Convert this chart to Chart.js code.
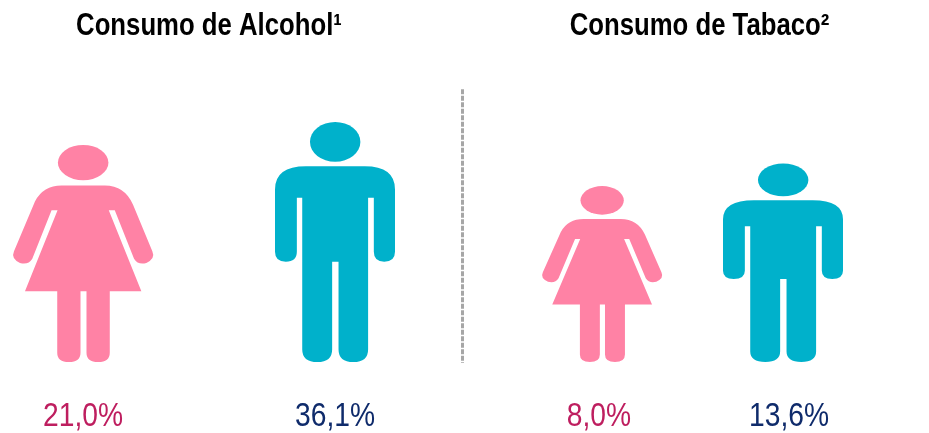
<!DOCTYPE html>
<html><head><meta charset="utf-8">
<script src="https://cdn.jsdelivr.net/npm/chart.js@4"></script>
<style>
html,body{margin:0;padding:0;background:#fff;overflow:hidden;width:929px;height:433px}
.p{position:absolute;top:0;height:433px}
#a{left:-60px;width:530px}
#b{left:469px;width:460px}
</style></head><body>
<div class="p" id="a"><canvas id="c1"></canvas></div>
<div class="p" id="b"><canvas id="c2"></canvas></div>
<script>
const alcoholLabels = ['21,0%', '36,1%'];
const tobaccoLabels = ['8,0%', '13,6%'];
const alcoholWomen = [21.0, null];
const alcoholMen = [null, 36.1];
const tobaccoWomen = [8.0, null];
const tobaccoMen = [null, 13.6];
const titles = ['Consumo de Alcohol¹', 'Consumo de Tabaco²'];

const PINK = '#FF82A5', TEAL = '#00B1CB', LABEL_COLOURS = ['#BE1E5F', '#0F2B6B'];
const FONT = '"Liberation Sans",Arial,sans-serif';
const LABEL_NUDGE = {'8,0%': -3, '13,6%': 6};

// Pictogram outlines, drawn in a unit box that is fitted to the bar rectangle.
const womanPath = new Path2D('M185 152L315 152Q375 152 400 210L458 350Q468 372 440 385Q415 392 403 372L345 226L327 226L425 470L330 470L330 655Q330 683 295 683Q260 683 260 655L260 470L242 470L242 655Q242 683 207 683Q172 683 172 655L172 470L75 470L173 226L155 226L97 372Q85 392 60 385Q32 372 42 350L105 200Q130 152 185 152Z');
const manPath = new Path2D('M125 152L300 152Q390 152 390 222L390 410Q390 440 358 440Q327 440 327 410L327 247L310 247L310 705Q310 743 266 743Q222 743 222 705L222 440L203 440L203 705Q203 743 159 743Q114 743 114 705L114 247L98 247L98 410Q98 440 65 440Q33 440 33 410L33 222Q33 152 125 152Z');
const shapes = [
  {path: womanPath, x0: 39, y0: 30, w: 421, h: 653, head: [250, 83, 76, 53]},
  {path: manPath, x0: 33, y0: 18, w: 357, h: 725, head: [212, 78, 75, 60]}
];

// The reference's type is a condensed grotesque: squeeze the installed sans sideways.
const condensedText = {
  id: 'condensedText',
  beforeInit(chart) {
    const ctx = chart.ctx, fill = ctx.fillText;
    ctx.fillText = function (text, x, y) {
      const k = ctx.font.includes('bold') ? 0.83 : 0.83;
      ctx.save();
      ctx.translate(x + (LABEL_NUDGE[text] || 0), y);
      ctx.scale(k, 1);
      fill.call(ctx, text, 0, 0);
      ctx.restore();
    };
  }
};
const pictogram = {
  id: 'pictogram',
  beforeDatasetDraw(chart, args) {
    const ctx = chart.ctx, s = shapes[args.index];
    chart.getDatasetMeta(args.index).data.forEach((el, i) => {
      if (chart.data.datasets[args.index].data[i] == null) return;
      const p = el.getProps(['x', 'y', 'base', 'width'], true);
      ctx.save();
      ctx.translate(p.x - p.width / 2, p.y);
      ctx.scale(p.width / s.w, (p.base - p.y) / s.h);
      ctx.translate(-s.x0, -s.y0);
      ctx.fillStyle = el.options.backgroundColor;
      ctx.fill(s.path);
      ctx.beginPath();
      ctx.ellipse(s.head[0], s.head[1], s.head[2], s.head[3], 0, 0, Math.PI * 2);
      ctx.fill();
      ctx.restore();
    });
    return false;
  }
};
const divider = {
  id: 'divider',
  afterDraw(chart, args, o) {
    if (!o.show) return;
    const {ctx, chartArea: a} = chart;
    ctx.save();
    ctx.strokeStyle = '#a6a6a6';
    ctx.lineWidth = 3;
    ctx.setLineDash([5, 1.5]);
    ctx.beginPath();
    ctx.moveTo(a.right + 1.5, a.top);
    ctx.lineTo(a.right + 1.5, a.bottom + 1);
    ctx.stroke();
    ctx.restore();
  }
};

function panel(id, labels, women, men, title, womanWidth, manWidth, pad, yPos, yWidth, showDivider) {
  return new Chart(document.getElementById(id), {
    type: 'bar',
    data: {
      labels,
      datasets: [
        {label: 'Mulheres', data: women, backgroundColor: PINK, barThickness: womanWidth, grouped: false},
        {label: 'Homens', data: men, backgroundColor: TEAL, barThickness: manWidth, grouped: false}
      ]
    },
    plugins: [condensedText, pictogram, divider],
    options: {
      responsive: true, maintainAspectRatio: false, animation: false,
      layout: {padding: {left: pad[0], right: pad[1], bottom: 0, top: 0}},
      scales: {
        x: {
          grid: {display: false}, border: {display: false},
          afterFit(s) { s.height = 71; },
          ticks: {color: c => LABEL_COLOURS[c.index], font: {family: FONT, size: 34}, padding: 26, maxRotation: 0, autoSkip: false}
        },
        y: {
          type: 'logarithmic', min: 0.128, max: 78, position: yPos,
          grid: {display: false}, border: {display: false}, ticks: {display: false},
          afterFit(s) { s.width = yWidth; }
        }
      },
      plugins: {
        legend: {display: false},
        tooltip: {enabled: false},
        divider: {show: showDivider},
        title: {display: true, text: title, color: '#000', font: {family: FONT, size: 31, weight: 'bold'}, padding: {top: 8, bottom: 44}}
      }
    }
  });
}
panel('c1', alcoholLabels, alcoholWomen, alcoholMen, titles[0], 140, 120, [17, 9], 'left', 0, true);
panel('c2', tobaccoLabels, tobaccoWomen, tobaccoMen, titles[1], 120, 120, [42.5, 41.5], 'right', 14, false);
</script>
</body></html>
